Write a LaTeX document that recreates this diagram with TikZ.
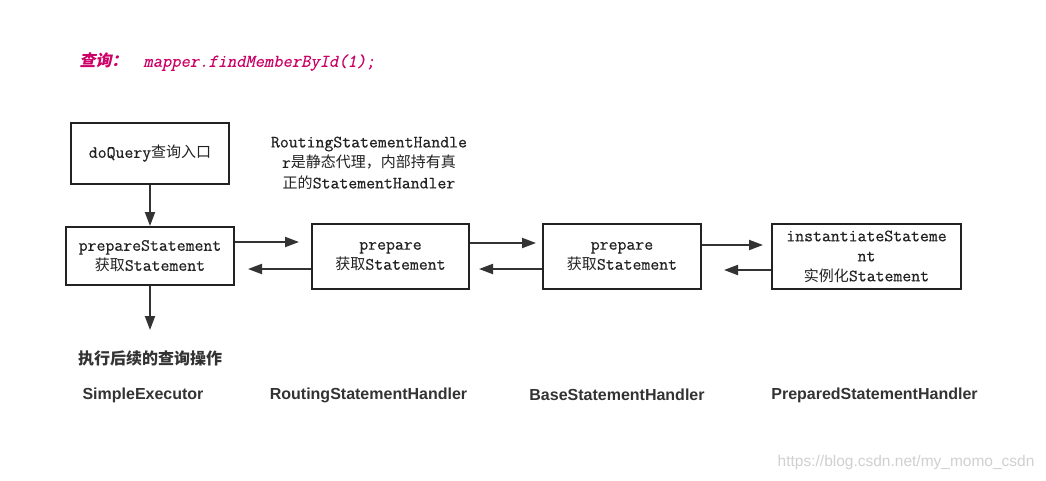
\documentclass[tikz,border=0pt]{standalone}
\usepackage{fontspec}
\setmainfont{Latin Modern Mono}[FakeBold=0.4]
\setsansfont{Liberation Sans}
\newfontfamily\codeslant{Latin Modern Mono}[FakeSlant=0.22, FakeBold=0.3]
\newfontfamily\cjk{Noto Sans CJK SC}
\newfontfamily\cjkslant{Noto Sans CJK SC}[FakeSlant=0.2]
\newcommand{\zh}[1]{{\cjk\fontsize{15}{20}\selectfont #1}}
\usetikzlibrary{arrows.meta, positioning}
\definecolor{QueryPink}{HTML}{CC0066}
\definecolor{BoxLine}{HTML}{222222}
\definecolor{ArrowGrey}{HTML}{333333}
\definecolor{LabelGrey}{HTML}{333333}
\definecolor{MarkGrey}{HTML}{D0D0D0}
\tikzset{
  stepbox/.style={draw=BoxLine, line width=2pt, align=center, inner sep=0pt,
    font=\fontsize{17.3}{20}\selectfont, text=BoxLine},
  flow/.style={->, line width=2pt, draw=ArrowGrey},
  clsname/.style={font=\sffamily\bfseries\fontsize{16}{19}\selectfont, text=LabelGrey},
}

\begin{document}
\begin{tikzpicture}[x=1pt, y=-1pt, >={Triangle[length=14pt,width=10pt]}]
    \fill [white] (0,0) rectangle (1046,480);
    \useasboundingbox (0,0) rectangle (1046,480);

    % query line
    \node [anchor=west, text=QueryPink, font=\codeslant\fontsize{18}{20}\selectfont] (query) at (76,62)
        {{\cjkslant\bfseries\fontsize{16}{20}\selectfont 查询：}\hspace{16pt}mapper.findMemberById(1);};

    % call chain boxes
    \node [stepbox, minimum width=158pt, minimum height=61pt] (doquery) at (150,153.5) {doQuery\zh{查询入口}};
    \node [stepbox, minimum width=168pt, minimum height=58pt] (prepstmt) at (150,256) {prepareStatement\\\zh{获取}Statement};
    \node [stepbox, minimum width=157pt, minimum height=65pt] (routing) at (390.5,256.5) {prepare\\\zh{获取}Statement};
    \node [stepbox, minimum width=158pt, minimum height=65pt] (base) at (622,256.5) {prepare\\\zh{获取}Statement};
    \node [stepbox, minimum width=189pt, minimum height=65pt] (instantiate) at (866.5,256.5) {instantiateStateme\\nt\\\zh{实例化}Statement};

    % note on the routing handler
    \node [align=center, text=BoxLine, font=\fontsize{17.3}{20.5}\selectfont] (routingnote) at (369,163)
        {RoutingStatementHandle\\r\zh{是静态代理，内部持有真}\\\zh{正的}StatementHandler};

    % calls and returns
    \draw [flow] (doquery) -- (prepstmt);
    \draw [flow, shorten >=12pt] ([yshift=14pt]prepstmt.east) -- ([yshift=14pt]prepstmt.east -| routing.west);
    \draw [flow, shorten >=13pt] ([yshift=-12.5pt]routing.west) -- ([yshift=-12.5pt]routing.west -| prepstmt.east);
    \draw [flow, shorten >=6pt] ([yshift=13.5pt]routing.east) -- ([yshift=13.5pt]routing.east -| base.west);
    \draw [flow, shorten >=9pt] ([yshift=-12.5pt]base.west) -- ([yshift=-12.5pt]base.west -| routing.east);
    \draw [flow, shorten >=8pt] ([yshift=11.5pt]base.east) -- ([yshift=11.5pt]base.east -| instantiate.west);
    \draw [flow, shorten >=22pt] ([yshift=-13.5pt]instantiate.west) -- ([yshift=-13.5pt]instantiate.west -| base.east);

    % continue the query
    \coordinate (after) at (150,330);
    \draw [flow] (prepstmt) -- (after);
    \node [text=LabelGrey, font=\cjk\bfseries\fontsize{16}{19}\selectfont] (nextstep) at (150,358) {执行后续的查询操作};

    % class names
    \node [clsname] (simpleexec) at (143,395) {SimpleExecutor};
    \node [clsname] (routingname) at (368.5,395) {RoutingStatementHandler};
    \node [clsname] (basename) at (617,395) {BaseStatementHandler};
    \node [clsname] (preparedname) at (874.5,395) {PreparedStatementHandler};

    \node [anchor=east, text=MarkGrey, font=\sffamily\fontsize{15.5}{18}\selectfont] (mark) at (1038,462) {https://blog.csdn.net/my\_momo\_csdn};
\end{tikzpicture}
\end{document}
